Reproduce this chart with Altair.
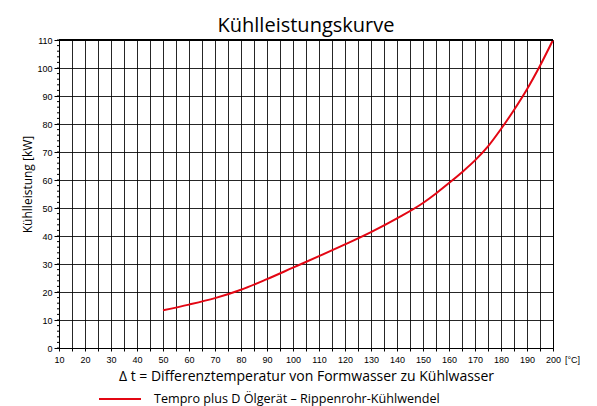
import altair as alt
import pandas as pd

temps = [50, 60, 70, 80, 90, 100, 110, 120, 130, 140, 150, 155, 160, 165, 170, 175, 180, 185, 190, 195, 200]
power = [13.5, 15.5, 17.8, 20.8, 24.6, 28.7, 32.8, 37.0, 41.4, 46.3, 51.8, 55.2, 58.9, 62.8, 67.0, 72.0, 78.2, 85.0, 92.4, 100.8, 110.0]
series_name = "Tempro plus D Ölgerät – Rippenrohr-Kühlwendel"
x_ticks = list(range(10, 201, 5))
y_ticks = list(range(0, 111, 10))
y_minor = list(range(0, 111, 2))

df = pd.DataFrame({"t": temps, "p": power, "s": series_name})
minor_df = pd.DataFrame({"v": y_minor})
unit_df = pd.DataFrame({"txt": ["[°C]"]})

xscale = alt.Scale(domain=[10, 200], nice=False, zero=False)
yscale = alt.Scale(domain=[0, 110], nice=False)

y_axis = alt.Axis(values=y_ticks, title="Kühlleistung [kW]",
                  grid=True, gridColor="#000", gridWidth=1, gridOpacity=0.85,
                  tickSize=5, tickColor="#000", domainColor="#000",
                  labelFont="Liberation Sans", labelFontSize=9, labelColor="#000",
                  labelPadding=2, labelOverlap=False,
                  titleFont="Open Sans", titleFontSize=12, titleFontWeight="normal",
                  titleColor="#000", titlePadding=2, titleY=144)

line = alt.Chart(df).mark_line(strokeWidth=2, interpolate="monotone").encode(
    x=alt.X("t:Q", scale=xscale,
            axis=alt.Axis(values=x_ticks, labelExpr="datum.value % 10 == 0 ? datum.label : ''",
                          title="Δ t = Differenztemperatur von Formwasser zu Kühlwasser",
                          grid=True, gridColor="#000", gridWidth=1, gridOpacity=0.85,
                          tickSize=3, tickColor="#000", domainColor="#000",
                          labelFont="Liberation Sans", labelFontSize=9, labelColor="#000",
                          labelPadding=4, labelFlush=False, labelOverlap=False,
                          titleFont="Open Sans", titleFontSize=14, titleFontWeight="normal",
                          titleColor="#000", titlePadding=5)),
    y=alt.Y("p:Q", scale=yscale, axis=y_axis),
    color=alt.Color("s:N", scale=alt.Scale(range=["#e30613"]),
                    legend=alt.Legend(title=None, orient="none", legendX=39, legendY=337,
                                      symbolType="stroke", symbolSize=1764, symbolStrokeWidth=2,
                                      labelFont="Open Sans", labelFontSize=12.6, labelColor="#000",
                                      labelOffset=12, labelLimit=500)),
)

minor = alt.Chart(minor_df).mark_rule(color="#000", strokeWidth=1).encode(
    y=alt.Y("v:Q", scale=yscale, axis=y_axis),
    x=alt.value(-2),
    x2=alt.value(0),
)

unit = alt.Chart(unit_df).mark_text(font="Liberation Sans", fontSize=9, align="left",
                                    baseline="top", color="#000").encode(
    text="txt:N",
    x=alt.value(506),
    y=alt.value(316),
)

top_border = alt.Chart(pd.DataFrame({"v": [110]})).mark_rule(color="#000", strokeWidth=2).encode(
    y=alt.Y("v:Q", scale=yscale, axis=y_axis),
)

chart = alt.layer(line, minor, top_border, unit).properties(
    width=494, height=308,
    title=alt.TitleParams("Kühlleistungskurve", font="Open Sans", fontSize=20,
                          fontWeight="normal", color="#000", anchor="middle", offset=0),
    autosize=alt.AutoSizeParams(type="none"),
    padding={"left": 51, "top": 32, "right": 30, "bottom": 58},
).configure_view(stroke="#000", strokeWidth=1)

chart.save("out.html", embed_options={"renderer": "svg", "actions": False})
